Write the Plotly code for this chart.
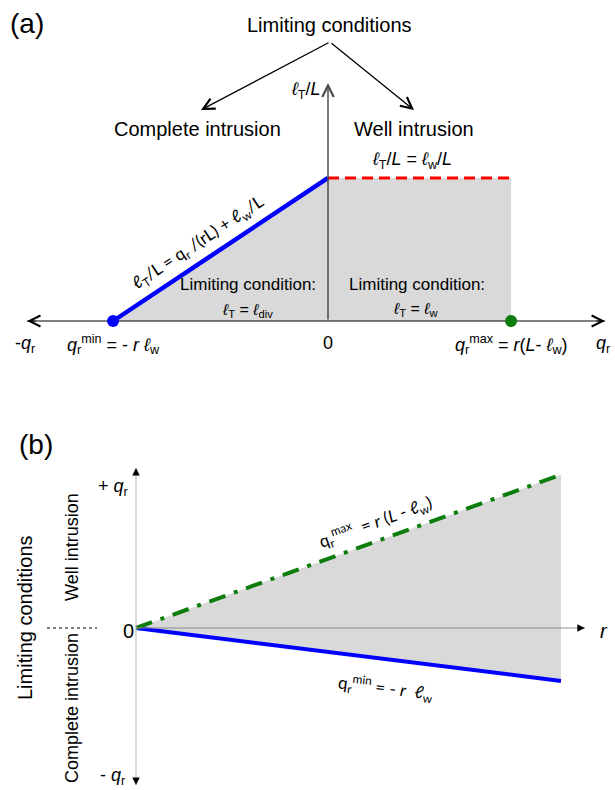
import plotly.graph_objects as go

W, H = 615, 790

# ---------------- data (schematic) ----------------
# Panel (a): l_T/L versus q_r  (nodes: q_r^min, 0, q_r^max)
qr_a = [-0.54, 0.0, 0.46]
lt_a = [0.0, 0.54, 0.54]
# Panel (b): q_r limits versus r
r_b = [0.0, 1.0]
qmax_b = [0.0, 0.97]
qmin_b = [0.0, -0.335]

# ---------------- layout constants ----------------
AXIS_A_X = (-0.756, 0.696)   # extent of the q_r axis arrow in panel (a)
AXIS_A_YTOP = 0.898          # top of the l_T/L axis arrow in panel (a)
AXIS_B_X = 1.056             # end of the r axis arrow in panel (b)
AXIS_B_Y = (-0.994, 1.013)   # extent of the q_r axis arrow in panel (b)

FONT = "Liberation Sans, Arial, sans-serif"
HUM = "Lato, Open Sans, sans-serif"
BLUE = "#0000ff"
RED = "#ff0000"
GREEN = "#0b7d0b"
GRAYFILL = "#d9d9d9"


def px(x):
    return x / W


def py(y):
    return 1 - y / H


fig = go.Figure()

# ---- panel (a) ----
fig.add_trace(go.Scatter(
    x=[qr_a[0], qr_a[1], qr_a[2], qr_a[2]], y=[lt_a[0], lt_a[1], lt_a[2], lt_a[0]],
    fill="toself", fillcolor=GRAYFILL, mode="lines", line=dict(width=0),
    hoverinfo="skip", xaxis="x", yaxis="y"))
fig.add_trace(go.Scatter(
    x=list(AXIS_A_X), y=[0, 0], mode="lines", line=dict(color="black", width=1.2),
    hoverinfo="skip", xaxis="x", yaxis="y"))
fig.add_trace(go.Scatter(
    x=qr_a[:2], y=lt_a[:2], mode="lines", line=dict(color=BLUE, width=4.5),
    xaxis="x", yaxis="y"))
fig.add_trace(go.Scatter(
    x=qr_a[1:], y=lt_a[1:], mode="lines", line=dict(color=RED, width=3, dash="11px,6px"),
    xaxis="x", yaxis="y"))
fig.add_trace(go.Scatter(
    x=[qr_a[0]], y=[lt_a[0]], mode="markers", marker=dict(color=BLUE, size=12),
    xaxis="x", yaxis="y"))
fig.add_trace(go.Scatter(
    x=[qr_a[2]], y=[lt_a[0]], mode="markers", marker=dict(color=GREEN, size=12),
    xaxis="x", yaxis="y"))

# ---- panel (b) ----
fig.add_trace(go.Scatter(
    x=r_b + r_b[::-1], y=qmax_b + qmin_b[::-1],
    fill="toself", fillcolor=GRAYFILL, mode="lines", line=dict(width=0),
    hoverinfo="skip", xaxis="x2", yaxis="y2"))
fig.add_trace(go.Scatter(
    x=r_b, y=qmin_b, mode="lines", line=dict(color=BLUE, width=4),
    xaxis="x2", yaxis="y2"))
fig.add_trace(go.Scatter(
    x=r_b, y=qmax_b, mode="lines",
    line=dict(color=GREEN, width=4, dash="17px,9px,4px,9px"),
    xaxis="x2", yaxis="y2"))

shapes = [
    # panel (b) axes (grey lines)
    dict(type="line", xref="x2", yref="y2", x0=0, x1=AXIS_B_X, y0=0, y1=0,
         line=dict(color="#8c8c8c", width=1)),
    dict(type="line", xref="x2", yref="y2", x0=0, x1=0, y0=AXIS_B_Y[0], y1=AXIS_B_Y[1],
         line=dict(color="#b3b3b3", width=1)),
    # dotted separator
    dict(type="line", xref="paper", yref="y2", x0=px(47), x1=px(97), y0=0, y1=0,
         line=dict(color="#555555", width=1.3, dash="dot")),
]

ann = []


def txt(x, y, t, size=18, angle=0, family=FONT, xref="paper", yref="paper"):
    ann.append(dict(x=x, y=y, xref=xref, yref=yref, text=t, showarrow=False,
                    xanchor="center", yanchor="middle",
                    textangle=angle, font=dict(family=family, size=size, color="black")))


def arrow(x, y, ax, ay, head=5, size=1.8, width=1.2, color="black", xref="paper", yref="paper",
          axref="pixel", ayref="pixel"):
    ann.append(dict(x=x, y=y, xref=xref, yref=yref, ax=ax, ay=ay, axref=axref, ayref=ayref,
                    showarrow=True, arrowhead=head, arrowsize=size, arrowwidth=width,
                    arrowcolor=color, text="", standoff=0))


# panel (a) arrows
arrow(AXIS_A_X[0], 0, 10, 0, xref="x", yref="y")
arrow(AXIS_A_X[1], 0, -10, 0, xref="x", yref="y")
arrow(0, AXIS_A_YTOP, 0, 0, xref="x", yref="y", axref="x", ayref="y",
      color="#4d4d4d", width=1.5, size=1.5)
arrow(px(201), py(110), 129, -68, width=1.3, size=1.7)
arrow(px(414), py(110), -84, -68, width=1.3, size=1.7)

# panel (b) arrow heads
arrow(AXIS_B_X, 0, -6, 0, head=2, size=1.5, width=1, xref="x2", yref="y2")
arrow(0, AXIS_B_Y[1], 0, 6, head=2, size=1.5, width=1, xref="x2", yref="y2")
arrow(0, AXIS_B_Y[0], 0, -6, head=2, size=1.5, width=1, xref="x2", yref="y2")

L = "<i>ℓ</i>"
# panel (a) texts
txt(px(27), py(23), "(a)", size=28)
txt(px(329), py(25), "Limiting conditions", size=20)
txt(px(197), py(129), "Complete intrusion", size=20)
txt(px(414), py(129), "Well intrusion", size=20)
txt(px(306), py(91), f"{L}<sub>T</sub>/<i>L</i>", size=18)
txt(px(412), py(161), f"{L}<sub>T</sub>/<i>L</i> = {L}<sub>w</sub>/<i>L</i>", size=18)
txt(px(198), py(243), "ℓ<sub>T</sub>/L = q<sub>r</sub> /(rL) + ℓ<sub>w</sub>/L", size=17,
    angle=-33.6, family=HUM)
txt(px(248), py(285), "Limiting condition:", size=17)
txt(px(247), py(310), f"{L}<sub>T</sub> = {L}<sub>div</sub>", size=16)
txt(px(417), py(285), "Limiting condition:", size=17)
txt(px(415), py(309), f"{L}<sub>T</sub> = {L}<sub>w</sub>", size=16)
txt(px(25), py(344), "-<i>q</i><sub>r</sub>", size=18)
txt(qr_a[0], py(344), f"<i>q</i><sub>r</sub><sup>min</sup> = - <i>r</i> {L}<sub>w</sub>", size=18,
    xref="x")
txt(qr_a[1], py(343), "0", size=18, xref="x")
txt(qr_a[2], py(344), f"<i>q</i><sub>r</sub><sup>max</sup> = <i>r</i>(<i>L</i>- {L}<sub>w</sub>)",
    size=18, xref="x")
txt(px(603), py(344), "<i>q</i><sub>r</sub>", size=18)

# panel (b) texts
txt(px(36), py(444), "(b)", size=28)
txt(px(113), py(488), "+ <i>q</i><sub>r</sub>", size=18)
txt(px(112), py(776), "- <i>q</i><sub>r</sub>", size=18)
txt(px(128), py(631), "0", size=20)
txt(px(604), py(631), "<i>r</i>", size=20)
txt(px(25), py(618), "Limiting conditions", size=20, angle=-90)
txt(px(72), py(547), "Well intrusion", size=18, angle=-90)
txt(px(72), py(708), "Complete intrusion", size=18, angle=-90)
txt(px(375), py(522), "q<sub>r</sub><sup>max</sup>  = <i>r</i> (<i>L</i> - <i>ℓ</i><sub>w</sub>)",
    size=17, angle=-20, family=HUM)
txt(px(386), py(688), "q<sub>r</sub><sup>min</sup> = - <i>r</i>  <i>ℓ</i><sub>w</sub>",
    size=17, angle=7, family=HUM)

dom_split = 1 - 400 / H
fig.update_layout(
    width=W, height=H, margin=dict(l=0, r=0, t=0, b=0),
    paper_bgcolor="white", plot_bgcolor="white", showlegend=False,
    xaxis=dict(domain=[0, 1], range=[-328 / 398, (W - 328) / 398], visible=False, anchor="y"),
    yaxis=dict(domain=[dom_split, 1], range=[(321 - 400) / 265, 321 / 265], visible=False,
               anchor="x"),
    xaxis2=dict(domain=[0, 1], range=[-136 / 425, (W - 136) / 425], visible=False, anchor="y2"),
    yaxis2=dict(domain=[0, dom_split], range=[(628 - H) / 158, (628 - 400) / 158],
                visible=False, anchor="x2"),
    shapes=shapes, annotations=ann,
)

fig.write_html("out.html")
